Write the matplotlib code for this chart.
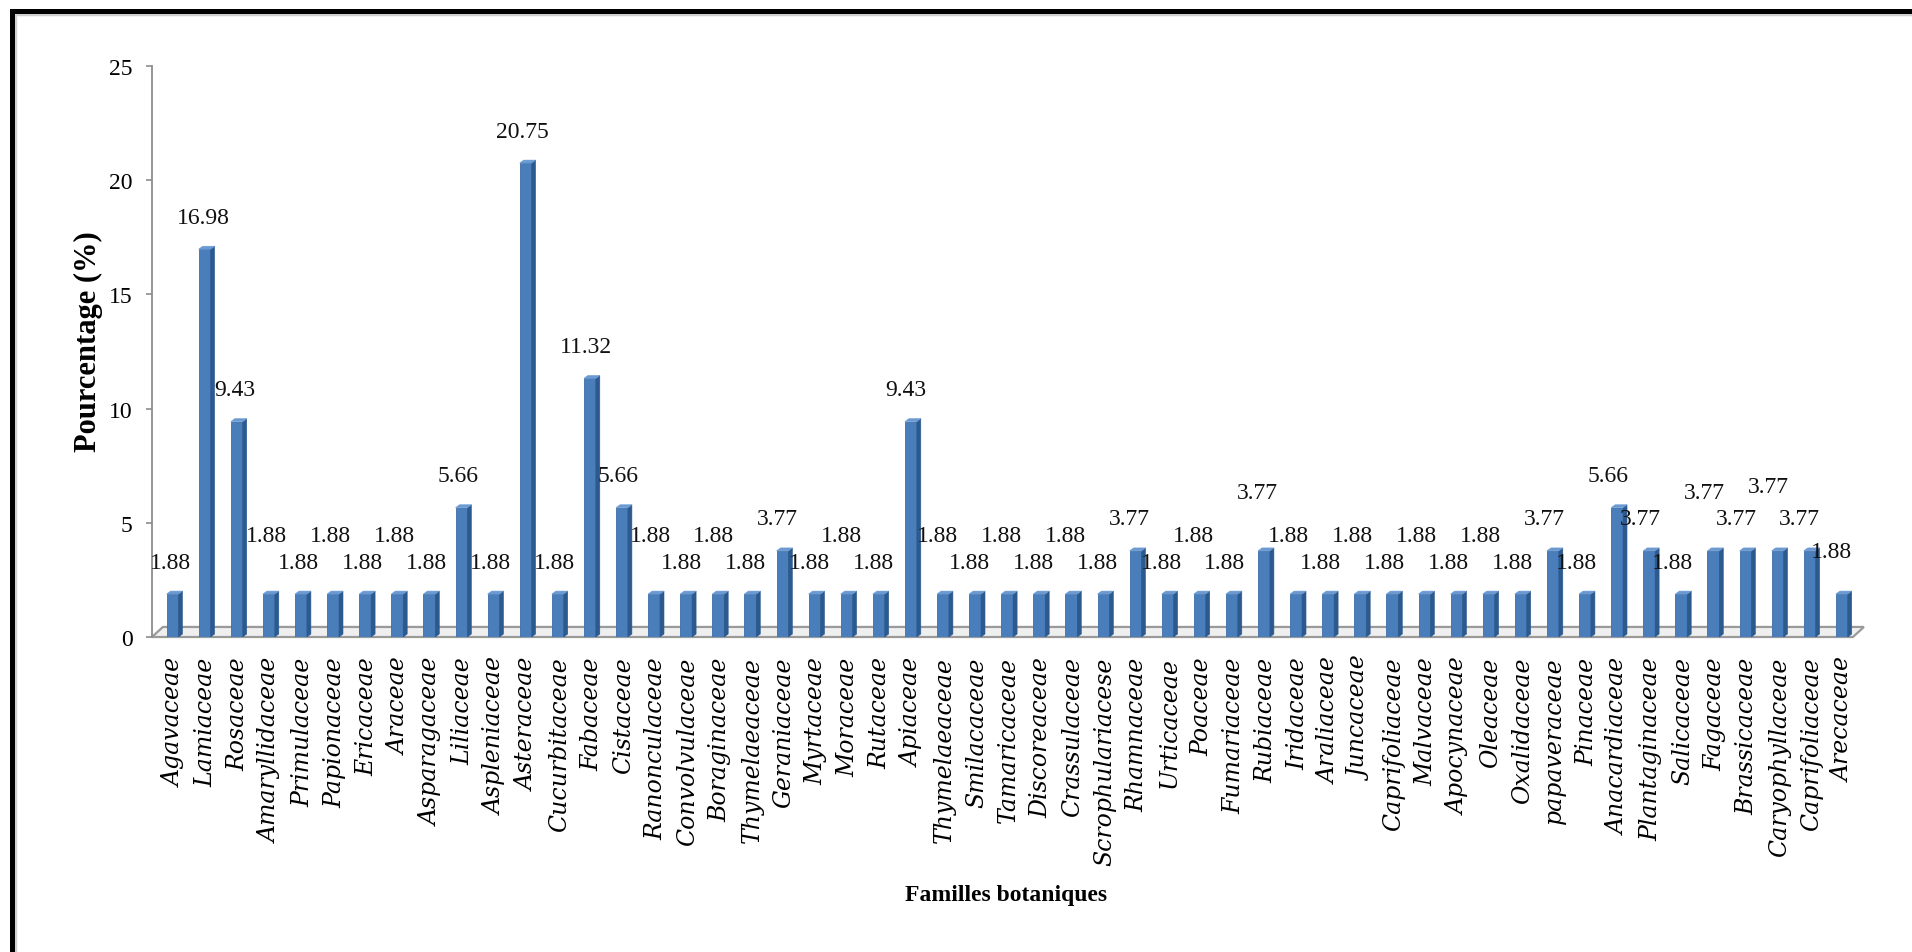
import matplotlib
matplotlib.use("Agg")
import matplotlib.pyplot as plt
from matplotlib.patches import Polygon, Rectangle
import numpy as np

# Botanical families and their share of the recorded species (%)
families = [
    "Agavaceae", "Lamiaceae", "Rosaceae", "Amaryllidaceae", "Primulaceae",
    "Papionaceae", "Ericaceae", "Araceae", "Asparagaceae", "Liliaceae",
    "Aspleniaceae", "Asteraceae", "Cucurbitaceae", "Fabaceae", "Cistaceae",
    "Ranonculaceae", "Convolvulaceae", "Boraginaceae", "Thymelaeaceae",
    "Geraniaceae", "Myrtaceae", "Moraceae", "Rutaceae", "Apiaceae",
    "Thymelaeaceae", "Smilacaceae", "Tamaricaceae", "Discoreaceae",
    "Crassulaceae", "Scrophulariacese", "Rhamnaceae", "Urticaceae", "Poaceae",
    "Fumariaceae", "Rubiaceae", "Iridaceae", "Araliaceae", "Juncaceae",
    "Caprifoliaceae", "Malvaceae", "Apocynaceae", "Oleaceae", "Oxalidaceae",
    "papaveraceae", "Pinaceae", "Anacardiaceae", "Plantaginaceae", "Salicaceae",
    "Fagaceae", "Brassicaceae", "Caryophyllaceae", "Caprifoliaceae", "Arecaceae",
]
percentages = [
    1.88, 16.98, 9.43, 1.88, 1.88,
    1.88, 1.88, 1.88, 1.88, 5.66,
    1.88, 20.75, 1.88, 11.32, 5.66,
    1.88, 1.88, 1.88, 1.88,
    3.77, 1.88, 1.88, 1.88, 9.43,
    1.88, 1.88, 1.88, 1.88,
    1.88, 1.88, 3.77, 1.88, 1.88,
    1.88, 3.77, 1.88, 1.88, 1.88,
    1.88, 1.88, 1.88, 1.88, 1.88,
    3.77, 1.88, 5.66, 3.77, 1.88,
    3.77, 3.77, 3.77, 3.77, 1.88,
]
y_ticks = [0, 5, 10, 15, 20, 25]

# Gap between each bar top and its value label (staggered to avoid overlaps)
N, Hi = 1.4, 2.55
label_lift = [
    N, N, N, Hi, N, Hi, N, Hi, N, N,
    N, N, N, N, N, Hi, N, Hi, N, N,
    N, Hi, N, N, Hi, N, Hi, N, Hi, N,
    N, N, Hi, N, Hi, Hi, N, Hi, N, Hi,
    N, Hi, N, N, N, N, N, N, Hi, N,
    2.8, N, 1.85,
]

W, H = 1912, 953
fig = plt.figure(figsize=(W / 100, H / 100), dpi=100)
fig.patch.set_facecolor("white")


def px_box(x0, y0, x1, y1):
    return [x0 / W, 1 - y1 / H, (x1 - x0) / W, (y1 - y0) / H]


ax = fig.add_axes(px_box(152, 67, 1853, 638))
ax.set_xlim(-0.69, 52.3)
ax.set_ylim(0, 25)

x = np.arange(len(families))
vals = np.array(percentages)

# 3-D style floor
dx, dy = 0.34, 0.44
floor = Polygon([(-0.69, 0), (52.3, 0), (52.3 + dx, dy), (-0.69 + dx, dy)],
                closed=True, facecolor="#EFEFEF", edgecolor="#9A9A9A",
                lw=1.6, zorder=1, clip_on=False)
ax.add_patch(floor)

# Bars: front face, darker side and lighter top to give depth
front_c, side_c, top_c = "#4A7EBB", "#2C5A8F", "#6B9AD2"
bw, sw, rise = 0.37, 0.125, 0.13
ax.bar(x - 0.05, vals, width=bw, color=front_c, edgecolor="#3D6EA8",
       linewidth=0.6, zorder=3)
for xi, v in zip(x, vals):
    left = xi - 0.05 - bw / 2
    right = xi - 0.05 + bw / 2
    ax.add_patch(Polygon([(right, 0), (right + sw, rise), (right + sw, v + rise),
                          (right, v)], closed=True, facecolor=side_c,
                         edgecolor=side_c, lw=0.4, zorder=3))
    ax.add_patch(Polygon([(left, v), (left + sw, v + rise), (right + sw, v + rise),
                          (right, v)], closed=True, facecolor=top_c,
                         edgecolor=top_c, lw=0.4, zorder=3))

# Value labels
for xi, v, lift in zip(x, vals, label_lift):
    ax.text(xi - 0.1 - 0.005 * xi, v + lift, f"{v:.2f}", ha="center", va="center",
            fontsize=17, family="Liberation Serif", color="#111111", zorder=4)

# Axes styling
for s in ("top", "right", "bottom"):
    ax.spines[s].set_visible(False)
ax.spines["left"].set_color("#8C8C8C")
ax.spines["left"].set_linewidth(1.3)
ax.set_yticks(y_ticks)
ax.set_yticklabels([str(t) for t in y_ticks], family="Liberation Serif",
                   fontsize=17)
ax.tick_params(axis="y", direction="out", length=4, width=1.2,
               color="#8C8C8C", pad=10)
ax.set_xticks(x)
ax.set_xticklabels(families, rotation=90, family="DejaVu Serif",
                   style="italic", fontsize=17)
ax.tick_params(axis="x", length=0, pad=14)
ax.set_facecolor("none")

fig.text(88 / W, 1 - 342 / H, "Pourcentage (%)", rotation=90, ha="center",
         va="center", fontsize=22, fontweight="bold", family="Liberation Serif")
fig.text(1006 / W, 1 - 896 / H, "Familles botaniques", ha="center",
         va="center", fontsize=17, fontweight="bold", family="Liberation Serif")

# Outer frame (left and top edges visible)
fig.patches.append(Rectangle((15 / W, -0.2), 2, 1.2 - 15 / H,
                             transform=fig.transFigure, fill=False,
                             edgecolor="#D0D0D0", lw=2.5, zorder=0))
fig.patches.append(Rectangle((12 / W, -0.2), 2, 1.2 - 12 / H,
                             transform=fig.transFigure, fill=False,
                             edgecolor="black", lw=3.6, zorder=1))

fig.savefig("out.png", dpi=100)
